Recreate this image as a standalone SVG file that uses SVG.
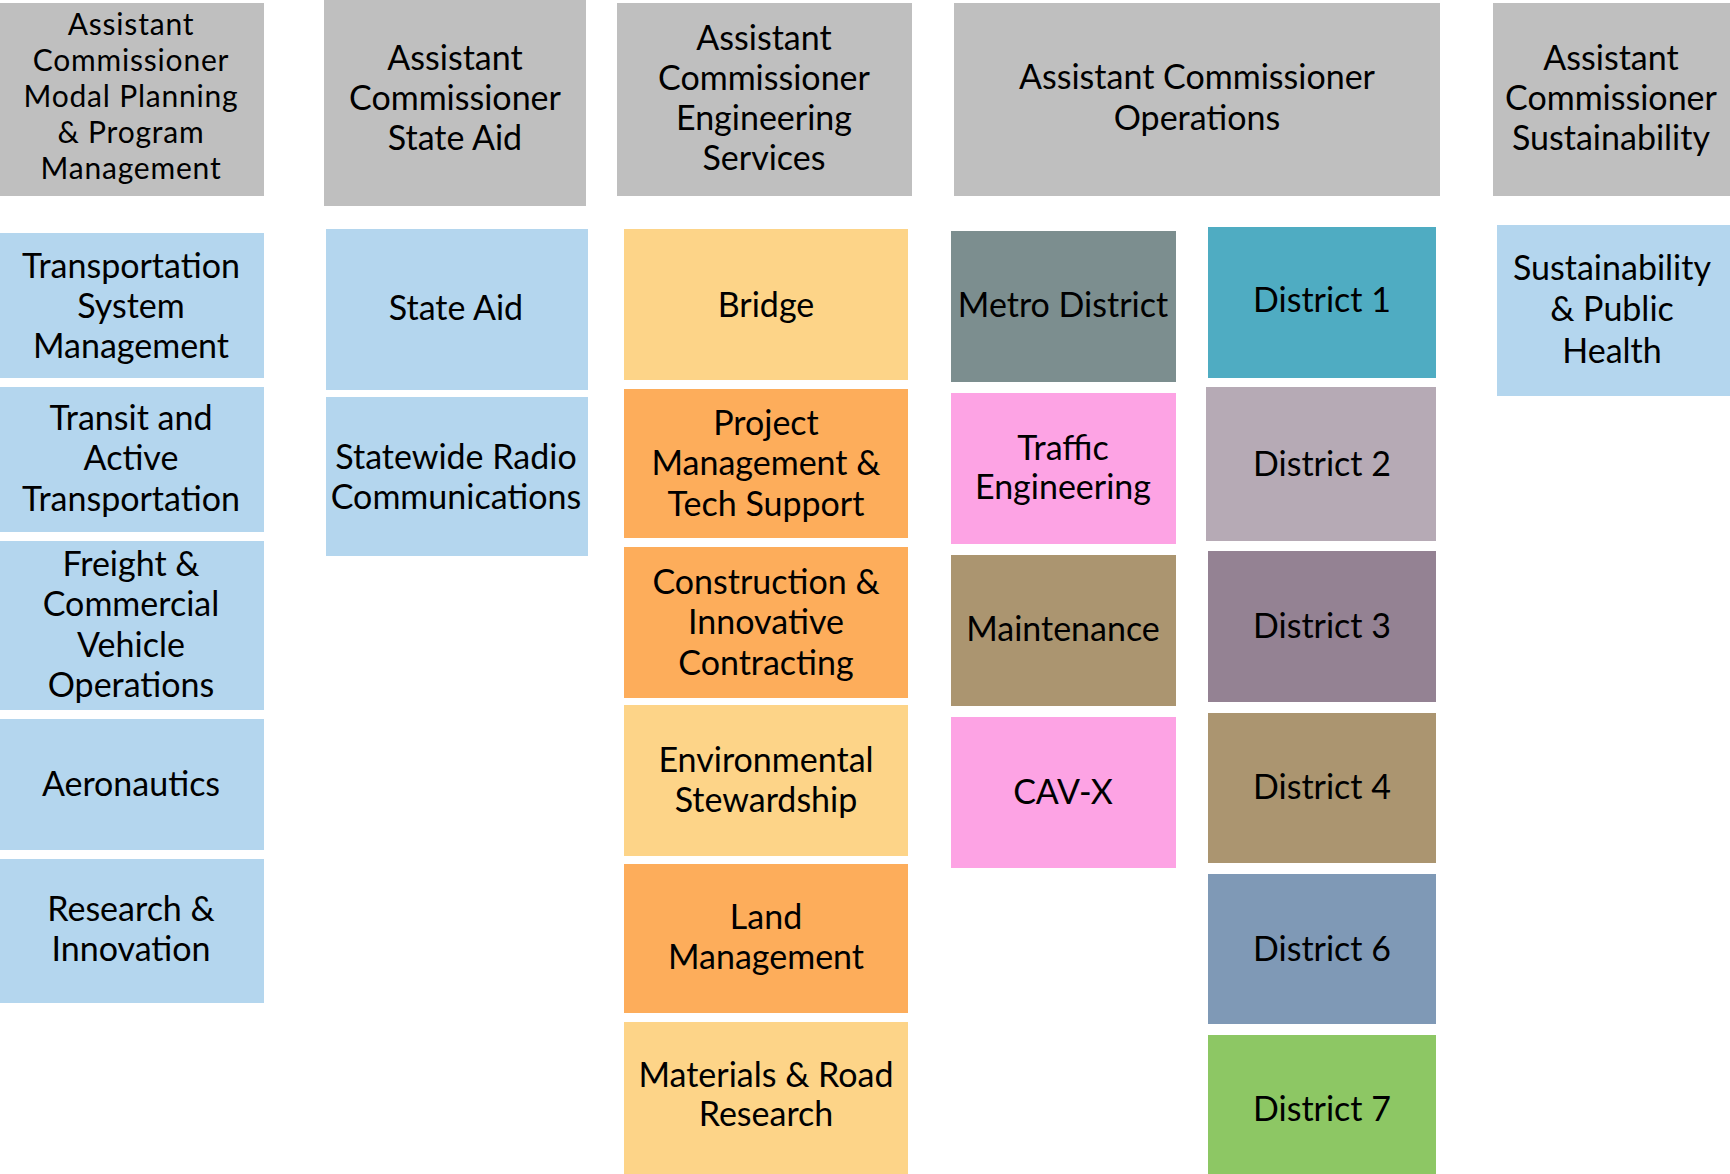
<svg xmlns="http://www.w3.org/2000/svg" width="1730" height="1174" viewBox="0 0 1730 1174">
<style>
text{font-family:Lato,"Open Sans","Liberation Sans",sans-serif;font-size:34px;fill:#000;text-anchor:middle}
text.sm{font-size:30px;letter-spacing:0.8px}
.hd{fill:#BFBFBF}
.lb{fill:#B4D6EE}
.lo{fill:#FDD488}
.or{fill:#FDAD5B}
.pk{fill:#FDA3E4}
.br{fill:#AB9570}
</style>
<rect width="1730" height="1174" fill="#FFFFFF"/>
<g id="connectors"></g>

<g id="h-modal"><rect class="hd" x="0" y="3" width="264" height="193"/>
<text class="sm" x="131" y="35">Assistant</text><text class="sm" x="131" y="71">Commissioner</text><text class="sm" x="131" y="107">Modal Planning</text><text class="sm" x="131" y="143">&amp; Program</text><text class="sm" x="131" y="179">Management</text></g>
<g id="n-tsm"><rect class="lb" x="0" y="233" width="264" height="145"/>
<text x="131" y="278">Transportation</text><text x="131" y="318">System</text><text x="131" y="358">Management</text></g>
<g id="n-transit"><rect class="lb" x="0" y="387" width="264" height="145"/>
<text x="131" y="430">Transit and</text><text x="131" y="470">Active</text><text x="131" y="511">Transportation</text></g>
<g id="n-freight"><rect class="lb" x="0" y="541" width="264" height="169"/>
<text x="131" y="576">Freight &amp;</text><text x="131" y="616">Commercial</text><text x="131" y="657">Vehicle</text><text x="131" y="697">Operations</text></g>
<g id="n-aero"><rect class="lb" x="0" y="719" width="264" height="131"/>
<text x="131" y="796">Aeronautics</text></g>
<g id="n-research"><rect class="lb" x="0" y="859" width="264" height="144"/>
<text x="131" y="921">Research &amp;</text><text x="131" y="961">Innovation</text></g>

<g id="h-stateaid"><rect class="hd" x="324" y="0" width="262" height="206"/>
<text x="455" y="70">Assistant</text><text x="455" y="110">Commissioner</text><text x="455" y="150">State Aid</text></g>
<g id="n-stateaid"><rect class="lb" x="326" y="229" width="262" height="161"/>
<text x="456" y="320">State Aid</text></g>
<g id="n-radio"><rect class="lb" x="326" y="397" width="262" height="159"/>
<text x="456" y="469">Statewide Radio</text><text x="456" y="509">Communications</text></g>

<g id="h-eng"><rect class="hd" x="617" y="3" width="295" height="193"/>
<text x="764" y="50">Assistant</text><text x="764" y="90">Commissioner</text><text x="764" y="130">Engineering</text><text x="764" y="170">Services</text></g>
<g id="n-bridge"><rect class="lo" x="624" y="229" width="284" height="151"/>
<text x="766" y="317">Bridge</text></g>
<g id="n-pm"><rect class="or" x="624" y="389" width="284" height="149"/>
<text x="766" y="435">Project</text><text x="766" y="475">Management &amp;</text><text x="766" y="516">Tech Support</text></g>
<g id="n-construction"><rect class="or" x="624" y="547" width="284" height="151"/>
<text x="766" y="594">Construction &amp;</text><text x="766" y="634">Innovative</text><text x="766" y="675">Contracting</text></g>
<g id="n-env"><rect class="lo" x="624" y="705" width="284" height="151"/>
<text x="766" y="772">Environmental</text><text x="766" y="812">Stewardship</text></g>
<g id="n-land"><rect class="or" x="624" y="864" width="284" height="149"/>
<text x="766" y="929">Land</text><text x="766" y="969">Management</text></g>
<g id="n-materials"><rect class="lo" x="624" y="1022" width="284" height="152"/>
<text x="766" y="1087">Materials &amp; Road</text><text x="766" y="1126">Research</text></g>

<g id="h-ops"><rect class="hd" x="954" y="3" width="486" height="193"/>
<text x="1197" y="89">Assistant Commissioner</text><text x="1197" y="130">Operations</text></g>
<g id="n-metro"><rect fill="#7C8E8F" x="951" y="231" width="225" height="151"/>
<text x="1063" y="317">Metro District</text></g>
<g id="n-traffic"><rect class="pk" x="951" y="393" width="225" height="151"/>
<text x="1063" y="460">Traffic</text><text x="1063" y="499">Engineering</text></g>
<g id="n-maint"><rect class="br" x="951" y="555" width="225" height="151"/>
<text x="1063" y="641">Maintenance</text></g>
<g id="n-cavx"><rect class="pk" x="951" y="717" width="225" height="151"/>
<text x="1063" y="804">CAV-X</text></g>

<g id="n-d1"><rect fill="#4FACC2" x="1208" y="227" width="228" height="151"/>
<text x="1322" y="312">District 1</text></g>
<g id="n-d2"><rect fill="#B6AAB5" x="1206" y="387" width="230" height="154"/>
<text x="1322" y="476">District 2</text></g>
<g id="n-d3"><rect fill="#948293" x="1208" y="551" width="228" height="151"/>
<text x="1322" y="638">District 3</text></g>
<g id="n-d4"><rect class="br" x="1208" y="713" width="228" height="150"/>
<text x="1322" y="799">District 4</text></g>
<g id="n-d6"><rect fill="#7F99B6" x="1208" y="874" width="228" height="150"/>
<text x="1322" y="961">District 6</text></g>
<g id="n-d7"><rect fill="#8DC764" x="1208" y="1035" width="228" height="139"/>
<text x="1322" y="1121">District 7</text></g>

<g id="h-sust"><rect class="hd" x="1493" y="3" width="237" height="193"/>
<text x="1611" y="70">Assistant</text><text x="1611" y="110">Commissioner</text><text x="1611" y="150">Sustainability</text></g>
<g id="n-sph"><rect class="lb" x="1497" y="225" width="233" height="171"/>
<text x="1612" y="280">Sustainability</text><text x="1612" y="321">&amp; Public</text><text x="1612" y="363">Health</text></g>
</svg>
